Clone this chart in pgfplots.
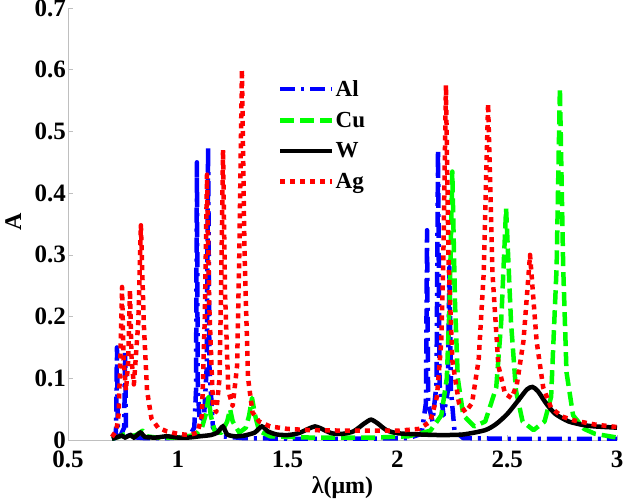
\documentclass[border=0pt]{standalone}
\usepackage{fontspec}
\setmainfont{Liberation Serif}
\usepackage{pgfplots}
\pgfplotsset{compat=1.18}
\begin{document}
\begin{tikzpicture}
\begin{axis}[
  scale only axis,
  width=549pt, height=432pt,
  xmin=0.5, xmax=3, ymin=0, ymax=0.7,
  xtick={0.5,1,1.5,2,2.5,3},
  ytick={0,0.1,0.2,0.3,0.4,0.5,0.6,0.7},
  xticklabel={\pgfmathprintnumber[assume math mode=true,fixed,precision=1]{\tick}},
  yticklabel={\pgfmathprintnumber[assume math mode=true,fixed,precision=1]{\tick}},
  axis x line*=bottom, axis y line*=left,
  axis line style={black!25, line width=0.8pt, -},
  tick style={black!25, line width=0.6pt},
  tick align=inside,
  major tick length=5pt,
  ticklabel style={font=\fontsize{25}{28}\selectfont\bfseries, inner sep=0pt},
  yticklabel style={xshift=-2pt},
  xticklabel style={yshift=-11pt},
  xlabel={λ(μm)},
  ylabel={A},
  xlabel style={font=\fontsize{24}{28}\selectfont\bfseries, at={(axis description cs:0.5,-0.11)}, anchor=center},
  ylabel style={font=\fontsize{24}{28}\selectfont\bfseries, at={(axis description cs:-0.1,0.505)}, anchor=center, rotate=0},
  legend style={draw=none, fill=none, at={(axis description cs:0.3825,0.835)}, anchor=north west,
    font=\fontsize{23}{26}\selectfont\bfseries, inner sep=0pt, row sep=12pt,
    nodes={inner sep=1pt}},
  legend cell align=left,
  legend image code/.code={\draw[#1] (0pt,0pt) -- (52pt,0pt);},
  clip=true,
]
\addplot[blue, line width=4.5pt, dash pattern=on 15pt off 6pt on 3pt off 6pt, line join=round] coordinates {
(0.70,0.002) (0.715,0.003) (0.719,0.02) (0.723,0.15) (0.727,0.02) (0.74,0.008) (0.756,0.02) (0.76,0.145) (0.764,0.02) (0.78,0.005) (0.85,0.003) (0.95,0.003) (1.05,0.005) (1.075,0.02) (1.083,0.08) (1.087,0.45) (1.091,0.08) (1.10,0.03) (1.12,0.04) (1.132,0.12) (1.138,0.475) (1.144,0.12) (1.16,0.02) (1.2,0.006) (1.3,0.003) (1.5,0.002) (1.8,0.002) (2.05,0.003) (2.11,0.01) (2.13,0.06) (2.135,0.34) (2.14,0.06) (2.16,0.03) (2.178,0.09) (2.185,0.47) (2.192,0.09) (2.21,0.04) (2.23,0.08) (2.237,0.28) (2.244,0.08) (2.26,0.015) (2.3,0.003) (2.5,0.002) (3.0,0.002)
};
\addlegendentry{Al}
\addplot[green, line width=4.5pt, dash pattern=on 14pt off 6pt, line join=round] coordinates {
(0.70,0.002) (0.73,0.005) (0.76,0.01) (0.78,0.006) (0.81,0.008) (0.84,0.015) (0.86,0.006) (0.9,0.004) (1.0,0.004) (1.08,0.008) (1.11,0.02) (1.13,0.045) (1.14,0.07) (1.15,0.04) (1.17,0.012) (1.2,0.012) (1.225,0.03) (1.238,0.05) (1.25,0.03) (1.28,0.012) (1.31,0.02) (1.325,0.04) (1.338,0.068) (1.352,0.04) (1.37,0.015) (1.42,0.006) (1.6,0.004) (1.9,0.004) (2.05,0.006) (2.15,0.015) (2.2,0.04) (2.225,0.1) (2.2375,0.22) (2.25,0.435) (2.2625,0.22) (2.275,0.1) (2.3,0.04) (2.35,0.022) (2.4,0.03) (2.45,0.085) (2.4725,0.19) (2.495,0.375) (2.5175,0.19) (2.54,0.08) (2.57,0.03) (2.62,0.016) (2.67,0.03) (2.7,0.07) (2.725,0.28) (2.74,0.57) (2.755,0.28) (2.77,0.11) (2.8,0.04) (2.85,0.018) (2.9,0.01) (3.0,0.004)
};
\addlegendentry{Cu}
\addplot[black, line width=4.5pt, smooth, tension=0.4] coordinates {
(0.70,0.002) (0.72,0.004) (0.745,0.007) (0.76,0.004) (0.785,0.008) (0.80,0.004) (0.83,0.012) (0.85,0.005) (0.9,0.004) (0.95,0.006) (1.0,0.004) (1.05,0.004) (1.1,0.006) (1.15,0.008) (1.18,0.012) (1.205,0.022) (1.225,0.009) (1.26,0.006) (1.3,0.007) (1.35,0.012) (1.383,0.022) (1.41,0.014) (1.45,0.009) (1.5,0.008) (1.55,0.011) (1.6,0.019) (1.625,0.022) (1.65,0.019) (1.7,0.011) (1.75,0.01) (1.8,0.014) (1.85,0.027) (1.88,0.033) (1.91,0.027) (1.95,0.016) (2.0,0.011) (2.1,0.009) (2.2,0.008) (2.3,0.009) (2.4,0.016) (2.45,0.026) (2.5,0.042) (2.55,0.064) (2.59,0.082) (2.615,0.086) (2.64,0.079) (2.68,0.058) (2.72,0.042) (2.78,0.03) (2.85,0.024) (2.9,0.022) (3.0,0.02)
};
\addlegendentry{W}
\addplot[red, line width=4.5pt, dash pattern=on 5pt off 5pt, line join=round] coordinates {
(0.70,0.005) (0.72,0.015) (0.73,0.04) (0.7385,0.13) (0.746,0.248) (0.7535,0.13) (0.764,0.08) (0.7745,0.13) (0.782,0.243) (0.7895,0.13) (0.80,0.09) (0.82,0.19) (0.832,0.348) (0.845,0.19) (0.86,0.08) (0.88,0.035) (0.91,0.02) (0.95,0.014) (1.0,0.01) (1.05,0.008) (1.09,0.012) (1.11,0.04) (1.123,0.2) (1.133,0.43) (1.143,0.22) (1.16,0.06) (1.175,0.045) (1.19,0.1) (1.197,0.24) (1.206,0.47) (1.215,0.24) (1.23,0.08) (1.25,0.055) (1.27,0.12) (1.28,0.3) (1.292,0.6) (1.304,0.3) (1.32,0.1) (1.34,0.045) (1.37,0.03) (1.42,0.022) (1.5,0.018) (1.6,0.016) (1.8,0.015) (2.0,0.015) (2.1,0.018) (2.15,0.03) (2.18,0.07) (2.2,0.16) (2.209,0.29) (2.221,0.575) (2.233,0.29) (2.25,0.13) (2.28,0.06) (2.31,0.045) (2.34,0.06) (2.37,0.13) (2.393,0.27) (2.413,0.545) (2.433,0.27) (2.46,0.12) (2.49,0.075) (2.52,0.068) (2.544,0.09) (2.574,0.16) (2.604,0.3) (2.634,0.16) (2.664,0.085) (2.7,0.052) (2.75,0.038) (2.8,0.032) (2.9,0.025) (3.0,0.021)
};
\addlegendentry{Ag}
\end{axis}
\pgfresetboundingbox
\path (-68pt,-59pt) rectangle (557pt,440pt);
\end{tikzpicture}
\end{document}
